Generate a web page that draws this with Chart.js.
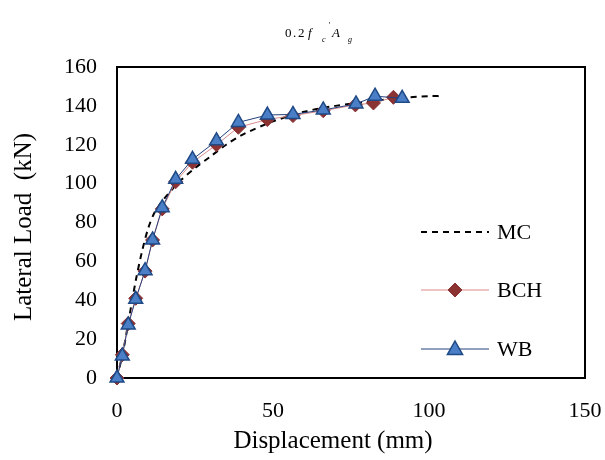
<!DOCTYPE html>
<html>
<head>
<meta charset="utf-8">
<script src="https://cdn.jsdelivr.net/npm/chart.js@4/dist/chart.umd.min.js"></script>
<style>
  html, body { margin: 0; padding: 0; background: #fff; }
  #wrap { width: 605px; height: 460px; }
</style>
</head>
<body>
<div id="wrap"><canvas id="loadChart" width="605" height="460"></canvas></div>
<script>
// data
const mcDisp = [0, 2, 4, 6, 8, 10, 12, 15, 20, 25, 30, 35, 40, 50, 60, 70, 80, 90, 100, 104];
const mcLoad = [0, 14, 32, 50, 65, 77, 85, 92, 101, 108, 114, 120, 125, 132, 137, 140, 142, 144, 145, 145];

const bchDisp = [0, 1.7, 3.6, 6, 9, 11.4, 14.5, 18.8, 24.2, 31.9, 38.9, 48.2, 56.4, 66.1, 76.4, 82.2, 88.6];
const bchLoad = [0, 12, 28, 41, 55, 71, 87, 101, 111, 120, 129, 133, 135, 137.5, 140.5, 141.5, 144.4];

const wbDisp = [0, 1.7, 3.6, 6, 9, 11.4, 14.5, 18.8, 24.2, 31.9, 38.9, 48.2, 56.4, 66.1, 76.6, 82.7, 91.4];
const wbLoad = [0, 11.3, 27.3, 40.5, 55.2, 71, 87.6, 102.2, 112.5, 122, 131.5, 135.3, 135.6, 137.9, 141, 145, 143.9];

const xTicks = [0, 50, 100, 150];
const yTicks = [0, 20, 40, 60, 80, 100, 120, 140, 160];

const xTitle = 'Displacement (mm)';
const yTitle = 'Lateral Load  (kN)';

const toPoints = (xs, ys) => xs.map((x, i) => ({ x, y: ys[i] }));
const serif = '"Liberation Serif", "Times New Roman", serif';

// boxed plot frame
const framePlugin = {
    id: 'frame',
    beforeDatasetsDraw(chart) {
        const { ctx, chartArea: a } = chart;
        ctx.save();
        ctx.strokeStyle = '#000';
        ctx.lineWidth = 2;
        ctx.strokeRect(a.left, a.top, a.right - a.left, a.bottom - a.top);
        ctx.restore();
    }
};

// formula title and axis titles, placed like the original
const textPlugin = {
    id: 'texts',
    afterDraw(chart) {
        const ctx = chart.ctx;
        ctx.save();
        ctx.fillStyle = '#000';
        ctx.textBaseline = 'alphabetic';
        const base = 37;
        ctx.font = '13px ' + serif;
        ctx.fillText('0', 285, base);
        ctx.fillText('.', 293, base);
        ctx.fillText('2', 298, base);
        ctx.font = 'italic 13px ' + serif;
        ctx.fillText('f', 308, base);
        ctx.font = 'italic 8px ' + serif;
        ctx.fillText('c', 322, base + 5);
        ctx.fillText("'", 328, base - 9);
        ctx.font = 'italic 13px ' + serif;
        ctx.fillText('A', 332, base);
        ctx.font = 'italic 8px ' + serif;
        ctx.fillText('g', 348, base + 5);

        ctx.font = '25px ' + serif;
        ctx.textAlign = 'center';
        ctx.textBaseline = 'middle';
        ctx.fillText(xTitle, 333, 441);
        ctx.translate(24, 227);
        ctx.rotate(-Math.PI / 2);
        ctx.fillText(yTitle, 0, 0);
        ctx.restore();
    }
};

// legend drawn inside the plot, widely spaced like the original
const legendPlugin = {
    id: 'sideLegend',
    afterDraw(chart) {
        const ctx = chart.ctx;
        const rows = [232, 290, 349];
        ctx.save();
        chart.data.datasets.forEach((ds, i) => {
            const y = rows[i];
            const x0 = 421, x1 = 489;
            ctx.beginPath();
            ctx.strokeStyle = ds.borderColor;
            ctx.lineWidth = ds.borderWidth;
            ctx.setLineDash(ds.borderDash || []);
            ctx.moveTo(x0, y);
            ctx.lineTo(x1, y);
            ctx.stroke();
            ctx.setLineDash([]);
            if (ds.pointRadius > 0) {
                ctx.fillStyle = ds.pointBackgroundColor;
                ctx.strokeStyle = ds.pointBorderColor;
                ctx.lineWidth = ds.pointBorderWidth;
                ctx.beginPath();
                drawMarker(ctx, ds.pointStyle, ds.pointRadius, (x0 + x1) / 2, y);
                ctx.fill();
                ctx.stroke();
            }
            ctx.fillStyle = '#000';
            ctx.font = '22px ' + serif;
            ctx.textBaseline = 'middle';
            ctx.fillText(ds.label, 497, y + 1);
        });
        ctx.restore();
    }
};

function drawMarker(ctx, style, r, x, y) {
    if (style === 'triangle') {
        ctx.moveTo(x, y - r);
        ctx.lineTo(x + r * 0.95, y + r * 0.7);
        ctx.lineTo(x - r * 0.95, y + r * 0.7);
        ctx.closePath();
    } else {
        ctx.moveTo(x, y - r);
        ctx.lineTo(x + r, y);
        ctx.lineTo(x, y + r);
        ctx.lineTo(x - r, y);
        ctx.closePath();
    }
}

const chart = new Chart(document.getElementById('loadChart').getContext('2d'), {
    type: 'scatter',
    data: {
        datasets: [{
            label: 'MC',
            data: toPoints(mcDisp, mcLoad),
            showLine: true,
            borderColor: '#000',
            borderWidth: 2,
            borderDash: [6, 5],
            pointRadius: 0,
            tension: 0.3,
            clip: false,
            order: 2
        }, {
            label: 'BCH',
            data: toPoints(bchDisp, bchLoad),
            showLine: true,
            borderColor: '#d98a8a',
            borderWidth: 1,
            pointStyle: 'rectRot',
            pointRadius: 7,
            pointBackgroundColor: '#8b3232',
            pointBorderColor: '#8b3232',
            pointBorderWidth: 1,
            clip: false,
            order: 1
        }, {
            label: 'WB',
            data: toPoints(wbDisp, wbLoad),
            showLine: true,
            borderColor: '#243f7a',
            borderWidth: 1,
            pointStyle: 'triangle',
            pointRadius: 8,
            pointBackgroundColor: '#4a7ec6',
            pointBorderColor: '#1f4a86',
            pointBorderWidth: 1.5,
            clip: false,
            order: 0
        }]
    },
    options: {
        responsive: false,
        animation: false,
        layout: { padding: { top: 67, right: 20, left: 0, bottom: 0 } },
        plugins: {
            legend: { display: false },
            tooltip: { enabled: false }
        },
        scales: {
            x: {
                type: 'linear',
                min: 0,
                max: 150,
                afterBuildTicks: (scale) => { scale.ticks = xTicks.map(v => ({ value: v })); },
                afterFit: (scale) => {
                    scale.height = 82;
                    scale.paddingLeft = 0;
                    scale.paddingRight = 0;
                },
                grid: { display: false, drawTicks: false },
                border: { display: false },
                ticks: { color: '#000', font: { family: serif, size: 22 }, padding: 20 }
            },
            y: {
                type: 'linear',
                min: 0,
                max: 160,
                afterBuildTicks: (scale) => { scale.ticks = yTicks.map(v => ({ value: v })); },
                afterFit: (scale) => {
                    scale.width = 117;
                    scale.paddingTop = 0;
                    scale.paddingBottom = 0;
                },
                grid: { display: false, drawTicks: false },
                border: { display: false },
                ticks: { color: '#000', font: { family: serif, size: 22 }, padding: 20 }
            }
        }
    },
    plugins: [framePlugin, textPlugin, legendPlugin]
});
</script>
</body>
</html>
